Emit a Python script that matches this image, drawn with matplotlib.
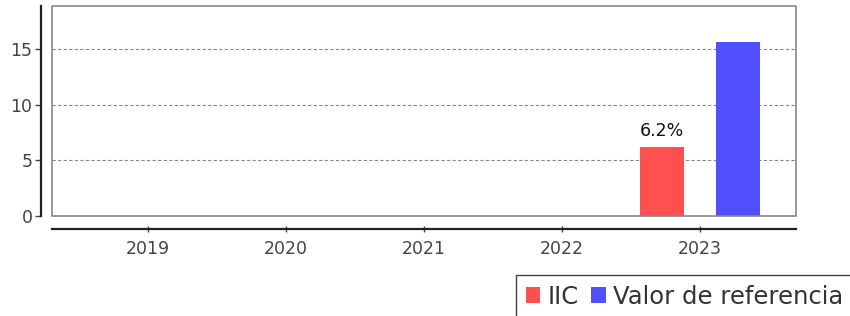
import numpy as np
import matplotlib
matplotlib.use("Agg")
import matplotlib.pyplot as plt
from matplotlib.patches import Rectangle

years = ["2019", "2020", "2021", "2022", "2023"]
iic = [np.nan, np.nan, np.nan, np.nan, 6.2]
referencia = [np.nan, np.nan, np.nan, np.nan, 15.7]
iic_labels = ["", "", "", "", "6.2%"]

W, H = 850, 316
fig = plt.figure(figsize=(W / 100, H / 100), dpi=100)
ax = fig.add_axes([52 / W, 1 - 216 / H, 744 / W, 210 / H])

x = np.arange(len(years))
bw = 0.32
off = 0.275
bars_iic = ax.bar(x - off, iic, bw, color="#ff5050", label="IIC")
ax.bar(x + off, referencia, bw, color="#5050ff", label="Valor de referencia")

for rect, txt in zip(bars_iic, iic_labels):
    h = rect.get_height()
    if txt and not np.isnan(h):
        ax.text(rect.get_x() + rect.get_width() / 2, h + 0.6, txt,
                ha="center", va="bottom", fontsize=12.5, color="#111111")

ax.set_xlim(-0.696, 4.696)
ax.set_ylim(0, 18.9)
ax.set_xticks(x)
ax.set_xticklabels(years)
ax.set_yticks([0, 5, 10, 15])

# dashed gridlines
for v in [5, 10, 15]:
    ax.axhline(v, color="#888888", linestyle=(0, (3, 2)), linewidth=0.8, zorder=0)

# detached axes like the original
ax.spines["left"].set_position(("outward", 8))
ax.spines["bottom"].set_position(("outward", 9))
ax.spines["left"].set_color("#222222")
ax.spines["bottom"].set_color("#222222")
ax.spines["left"].set_linewidth(1.6)
ax.spines["bottom"].set_linewidth(1.6)
ax.spines["top"].set_visible(False)
ax.spines["right"].set_visible(False)
ax.add_patch(Rectangle((0, 0), 1, 1, transform=ax.transAxes, fill=False,
                       edgecolor="#888888", linewidth=1.2, clip_on=False, zorder=5))

ax.tick_params(axis="y", length=4, width=1, color="#444444", labelsize=12.5,
               labelcolor="#444444", pad=2)
ax.tick_params(axis="x", length=4, width=1, color="#444444", labelsize=12.5,
               labelcolor="#444444", direction="inout", pad=6)

leg = fig.legend(loc="upper left", bbox_to_anchor=(516 / W, 1 - 275 / H),
                 ncol=2, fontsize=17.5, frameon=True, fancybox=False, edgecolor="#111111",
                 handlelength=0.6, handleheight=0.6, handletextpad=0.3, columnspacing=0.5,
                 borderpad=0.4, borderaxespad=0)
for t in leg.get_texts():
    t.set_color("#333333")

fig.savefig("out.png", dpi=100)
